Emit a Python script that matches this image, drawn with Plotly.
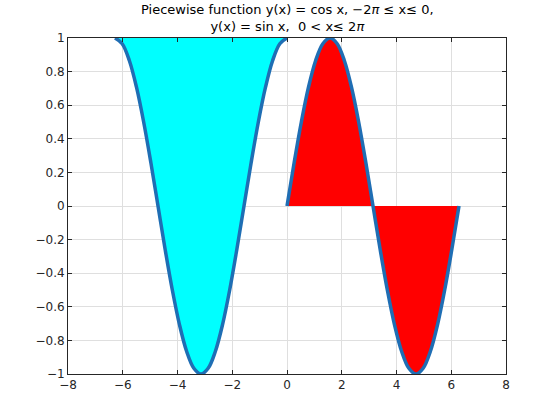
import plotly.graph_objects as go

# cos x on [-2pi, 0], sampled every pi/12
x_cos = [-6.283, -6.021, -5.760, -5.498, -5.236, -4.974, -4.712, -4.451, -4.189,
         -3.927, -3.665, -3.403, -3.142, -2.880, -2.618, -2.356, -2.094, -1.833,
         -1.571, -1.309, -1.047, -0.785, -0.524, -0.262, 0.0]
y_cos = [1, 0.966, 0.866, 0.707, 0.5, 0.259, 0, -0.259, -0.5, -0.707, -0.866, -0.966,
         -1, -0.966, -0.866, -0.707, -0.5, -0.259, 0, 0.259, 0.5, 0.707, 0.866, 0.966, 1]

# sin x on (0, 2pi], sampled every pi/12
x_sin = [0.0, 0.262, 0.524, 0.785, 1.047, 1.309, 1.571, 1.833, 2.094, 2.356, 2.618,
         2.880, 3.142, 3.403, 3.665, 3.927, 4.189, 4.451, 4.712, 4.974, 5.236, 5.498,
         5.760, 6.021, 6.283]
y_sin = [0, 0.259, 0.5, 0.707, 0.866, 0.966, 1, 0.966, 0.866, 0.707, 0.5, 0.259, 0,
         -0.259, -0.5, -0.707, -0.866, -0.966, -1, -0.966, -0.866, -0.707, -0.5, -0.259, 0]

x_ticks = [-8, -6, -4, -2, 0, 2, 4, 6, 8]
y_ticks = [-1, -0.8, -0.6, -0.4, -0.2, 0, 0.2, 0.4, 0.6, 0.8, 1]

title_text = ("Piecewise function y(x) = cos x, −2<i>π</i> ≤ x≤ 0,<br>"
              "y(x) = sin x,  0 &lt; x≤ 2<i>π</i>")

BLUE = "#1F6EB4"
FONT = "DejaVu Sans"

fig = go.Figure()
fig.add_trace(go.Scatter(x=x_cos, y=y_cos, fill="toself", fillcolor="#00FFFF",
                         mode="lines", line=dict(color="black", width=0.7, shape="spline"),
                         hoverinfo="skip", showlegend=False))
fig.add_trace(go.Scatter(x=x_sin, y=y_sin, fill="toself", fillcolor="#FF0000",
                         mode="lines", line=dict(color="black", width=0.7, shape="spline"),
                         hoverinfo="skip", showlegend=False))
fig.add_trace(go.Scatter(x=x_cos, y=y_cos, mode="lines",
                         line=dict(color=BLUE, width=3.5, shape="spline"),
                         showlegend=False, cliponaxis=False))
fig.add_trace(go.Scatter(x=x_sin, y=y_sin, mode="lines",
                         line=dict(color=BLUE, width=3.5, shape="spline"),
                         showlegend=False, cliponaxis=False))

axis_common = dict(
    showgrid=True, gridcolor="#dfdfdf", gridwidth=1,
    zeroline=False, showline=True, linecolor="#262626", linewidth=1,
    mirror="ticks", ticks="inside", ticklen=4, tickcolor="#262626",
    tickfont=dict(family=FONT, size=12, color="#262626"),
)

fig.update_layout(
    width=560, height=420,
    margin=dict(l=68, r=54, t=38, b=46),
    paper_bgcolor="white", plot_bgcolor="white",
    annotations=[dict(
        text=title_text, xref="paper", yref="paper", x=0.5, y=1,
        xanchor="center", yanchor="bottom", yshift=2, showarrow=False,
        font=dict(family=FONT, size=13, color="black"),
    )],
    xaxis=dict(range=[-8, 8], tickvals=x_ticks, **axis_common),
    yaxis=dict(range=[-1, 1], tickvals=y_ticks, **axis_common),
)

fig.write_html("out.html", config={"displayModeBar": False},
               post_script="document.body.style.margin='0';")
